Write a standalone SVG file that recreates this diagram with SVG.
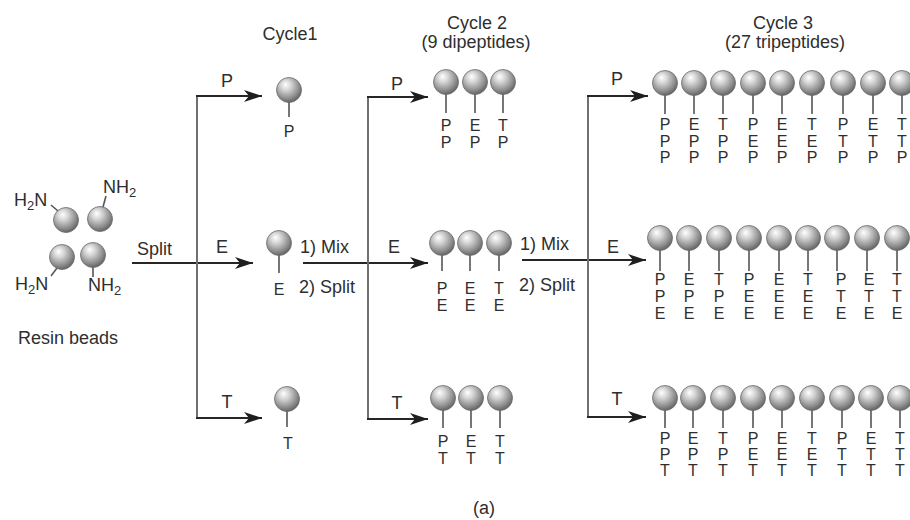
<svg xmlns="http://www.w3.org/2000/svg" width="910" height="520" viewBox="0 0 910 520">
<style>
text{font-family:"Liberation Sans",Arial,sans-serif;fill:#2e2e2e;font-size:18px}
.t{text-anchor:middle}
.pep{font-size:16px;text-anchor:middle}
.h{stroke:#262626;stroke-width:2;fill:none}
.v{stroke:#707070;stroke-width:2;fill:none}
.stem{stroke:#555;stroke-width:1.6}
.sub{font-size:13px}
</style>
<defs>
<radialGradient id="g" cx="0.42" cy="0.36" r="0.68" fx="0.36" fy="0.28">
<stop offset="0" stop-color="#ffffff"/>
<stop offset="0.3" stop-color="#d6d6d6"/>
<stop offset="0.75" stop-color="#8a8a8a"/>
<stop offset="1" stop-color="#5a5a5a"/>
</radialGradient>
<circle id="bd" r="12.5" fill="url(#g)" stroke="#6b6b6b" stroke-width="0.8"/>
<marker id="ah" viewBox="0 0 18 12" refX="18" refY="6" markerWidth="18" markerHeight="12" markerUnits="userSpaceOnUse" orient="auto">
<path d="M0,0 L18,6 L0,12 L5,6 Z" fill="#1e1e1e"/>
</marker>
</defs>
<rect width="910" height="520" fill="#ffffff"/>

<g id="titles">
<text class="t" x="290" y="40">Cycle1</text>
<text class="t" x="477" y="29">Cycle 2</text>
<text class="t" x="476" y="48">(9 dipeptides)</text>
<text class="t" x="783" y="29">Cycle 3</text>
<text class="t" x="785" y="48">(27 tripeptides)</text>
<text class="t" x="484" y="514">(a)</text>
</g>

<g id="resin-beads">
<line class="stem" x1="51" y1="205" x2="58" y2="211"/>
<use href="#bd" x="66" y="220"/>
<text x="14" y="206">H<tspan class="sub" dy="4">2</tspan><tspan dy="-4">N</tspan></text>
<line class="stem" x1="106" y1="196" x2="103" y2="207"/>
<use href="#bd" x="100" y="219"/>
<text x="103" y="193">NH<tspan class="sub" dy="4">2</tspan></text>
<line class="stem" x1="57" y1="268" x2="51" y2="276"/>
<use href="#bd" x="62" y="257"/>
<text x="15" y="290">H<tspan class="sub" dy="4">2</tspan><tspan dy="-4">N</tspan></text>
<line class="stem" x1="93" y1="267" x2="93" y2="277"/>
<use href="#bd" x="93" y="255"/>
<text x="88" y="291">NH<tspan class="sub" dy="4">2</tspan></text>
<text x="18" y="344">Resin beads</text>
</g>

<g id="connectors">
<line class="h" x1="132" y1="263" x2="253" y2="263" marker-end="url(#ah)"/>
<line class="v" x1="197" y1="96" x2="197" y2="419"/>
<line class="h" x1="196" y1="96" x2="262" y2="96" marker-end="url(#ah)"/>
<line class="h" x1="196" y1="418" x2="262" y2="418" marker-end="url(#ah)"/>
<line class="h" x1="303" y1="263" x2="428" y2="263" marker-end="url(#ah)"/>
<line class="v" x1="368" y1="97" x2="368" y2="420"/>
<line class="h" x1="367" y1="97" x2="428" y2="97" marker-end="url(#ah)"/>
<line class="h" x1="367" y1="419" x2="428" y2="419" marker-end="url(#ah)"/>
<line class="h" x1="522" y1="260" x2="646" y2="260" marker-end="url(#ah)"/>
<line class="v" x1="588" y1="95" x2="588" y2="418"/>
<line class="h" x1="587" y1="96" x2="648" y2="96" marker-end="url(#ah)"/>
<line class="h" x1="587" y1="417" x2="646" y2="417" marker-end="url(#ah)"/>
<text x="137" y="255">Split</text>
<text class="t" x="227" y="87">P</text>
<text class="t" x="222" y="253">E</text>
<text class="t" x="227" y="408">T</text>
<text x="300" y="253">1) Mix</text>
<text x="299" y="293">2) Split</text>
<text class="t" x="397" y="90">P</text>
<text class="t" x="394" y="253">E</text>
<text class="t" x="397" y="409">T</text>
<text x="520" y="250">1) Mix</text>
<text x="519" y="291">2) Split</text>
<text class="t" x="617" y="85">P</text>
<text class="t" x="613" y="253">E</text>
<text class="t" x="617" y="405">T</text>
</g>

<g id="cycle1-P">
<line class="stem" x1="289" y1="100" x2="289" y2="117"/>
<use href="#bd" x="289" y="90"/>
<text class="pep" x="289" y="137">P</text>
</g>
<g id="cycle1-E">
<line class="stem" x1="279" y1="253" x2="279" y2="273"/>
<use href="#bd" x="279" y="243"/>
<text class="pep" x="279" y="295">E</text>
</g>
<g id="cycle1-T">
<line class="stem" x1="287" y1="409" x2="287" y2="427"/>
<use href="#bd" x="287" y="399"/>
<text class="pep" x="288" y="449">T</text>
</g>

<g id="cycle2-P">
<g id="c2-PP"><line class="stem" x1="446" y1="90" x2="446" y2="113"/><use href="#bd" x="446" y="82"/><text class="pep" x="446" y="131">P<tspan x="446" dy="16.5">P</tspan></text></g>
<g id="c2-EP"><line class="stem" x1="475" y1="90" x2="475" y2="113"/><use href="#bd" x="475" y="82"/><text class="pep" x="475" y="131">E<tspan x="475" dy="16.5">P</tspan></text></g>
<g id="c2-TP"><line class="stem" x1="503" y1="90" x2="503" y2="113"/><use href="#bd" x="503" y="82"/><text class="pep" x="503" y="131">T<tspan x="503" dy="16.5">P</tspan></text></g>
</g>
<g id="cycle2-E">
<g id="c2-PE"><line class="stem" x1="442" y1="250" x2="442" y2="271"/><use href="#bd" x="442" y="243"/><text class="pep" x="442" y="294">P<tspan x="442" dy="16.5">E</tspan></text></g>
<g id="c2-EE"><line class="stem" x1="470" y1="250" x2="470" y2="271"/><use href="#bd" x="470" y="243"/><text class="pep" x="470" y="294">E<tspan x="470" dy="16.5">E</tspan></text></g>
<g id="c2-TE"><line class="stem" x1="499" y1="250" x2="499" y2="271"/><use href="#bd" x="499" y="243"/><text class="pep" x="499" y="294">T<tspan x="499" dy="16.5">E</tspan></text></g>
</g>
<g id="cycle2-T">
<g id="c2-PT"><line class="stem" x1="443" y1="405" x2="443" y2="428"/><use href="#bd" x="443" y="398"/><text class="pep" x="443" y="447">P<tspan x="443" dy="16.5">T</tspan></text></g>
<g id="c2-ET"><line class="stem" x1="471" y1="405" x2="471" y2="428"/><use href="#bd" x="471" y="398"/><text class="pep" x="471" y="447">E<tspan x="471" dy="16.5">T</tspan></text></g>
<g id="c2-TT"><line class="stem" x1="500" y1="405" x2="500" y2="428"/><use href="#bd" x="500" y="398"/><text class="pep" x="500" y="447">T<tspan x="500" dy="16.5">T</tspan></text></g>
</g>

<g id="cycle3-P">
<g id="c3-PPP"><line class="stem" x1="665" y1="90" x2="665" y2="114"/><use href="#bd" x="665" y="83"/><text class="pep" x="665" y="130">P<tspan x="665" dy="16.5">P</tspan><tspan x="665" dy="16.5">P</tspan></text></g>
<g id="c3-EPP"><line class="stem" x1="694" y1="90" x2="694" y2="114"/><use href="#bd" x="694" y="83"/><text class="pep" x="694" y="130">E<tspan x="694" dy="16.5">P</tspan><tspan x="694" dy="16.5">P</tspan></text></g>
<g id="c3-TPP"><line class="stem" x1="723" y1="90" x2="723" y2="114"/><use href="#bd" x="723" y="83"/><text class="pep" x="723" y="130">T<tspan x="723" dy="16.5">P</tspan><tspan x="723" dy="16.5">P</tspan></text></g>
<g id="c3-PEP"><line class="stem" x1="753" y1="90" x2="753" y2="114"/><use href="#bd" x="753" y="83"/><text class="pep" x="753" y="130">P<tspan x="753" dy="16.5">E</tspan><tspan x="753" dy="16.5">P</tspan></text></g>
<g id="c3-EEP"><line class="stem" x1="782" y1="90" x2="782" y2="114"/><use href="#bd" x="782" y="83"/><text class="pep" x="782" y="130">E<tspan x="782" dy="16.5">E</tspan><tspan x="782" dy="16.5">P</tspan></text></g>
<g id="c3-TEP"><line class="stem" x1="812" y1="90" x2="812" y2="114"/><use href="#bd" x="812" y="83"/><text class="pep" x="812" y="130">T<tspan x="812" dy="16.5">E</tspan><tspan x="812" dy="16.5">P</tspan></text></g>
<g id="c3-PTP"><line class="stem" x1="843" y1="90" x2="843" y2="114"/><use href="#bd" x="843" y="83"/><text class="pep" x="843" y="130">P<tspan x="843" dy="16.5">T</tspan><tspan x="843" dy="16.5">P</tspan></text></g>
<g id="c3-ETP"><line class="stem" x1="873" y1="90" x2="873" y2="114"/><use href="#bd" x="873" y="83"/><text class="pep" x="873" y="130">E<tspan x="873" dy="16.5">T</tspan><tspan x="873" dy="16.5">P</tspan></text></g>
<g id="c3-TTP"><line class="stem" x1="902" y1="90" x2="902" y2="114"/><use href="#bd" x="902" y="83"/><text class="pep" x="902" y="130">T<tspan x="902" dy="16.5">T</tspan><tspan x="902" dy="16.5">P</tspan></text></g>
</g>
<g id="cycle3-E">
<g id="c3-PPE"><line class="stem" x1="660" y1="245" x2="660" y2="271"/><use href="#bd" x="660" y="238"/><text class="pep" x="660" y="285">P<tspan x="660" dy="17">P</tspan><tspan x="660" dy="17">E</tspan></text></g>
<g id="c3-EPE"><line class="stem" x1="689" y1="245" x2="689" y2="271"/><use href="#bd" x="689" y="238"/><text class="pep" x="689" y="285">E<tspan x="689" dy="17">P</tspan><tspan x="689" dy="17">E</tspan></text></g>
<g id="c3-TPE"><line class="stem" x1="719" y1="245" x2="719" y2="271"/><use href="#bd" x="719" y="238"/><text class="pep" x="719" y="285">T<tspan x="719" dy="17">P</tspan><tspan x="719" dy="17">E</tspan></text></g>
<g id="c3-PEE"><line class="stem" x1="749" y1="245" x2="749" y2="271"/><use href="#bd" x="749" y="238"/><text class="pep" x="749" y="285">P<tspan x="749" dy="17">E</tspan><tspan x="749" dy="17">E</tspan></text></g>
<g id="c3-EEE"><line class="stem" x1="779" y1="245" x2="779" y2="271"/><use href="#bd" x="779" y="238"/><text class="pep" x="779" y="285">E<tspan x="779" dy="17">E</tspan><tspan x="779" dy="17">E</tspan></text></g>
<g id="c3-TEE"><line class="stem" x1="808" y1="245" x2="808" y2="271"/><use href="#bd" x="808" y="238"/><text class="pep" x="808" y="285">T<tspan x="808" dy="17">E</tspan><tspan x="808" dy="17">E</tspan></text></g>
<g id="c3-PTE"><line class="stem" x1="837" y1="245" x2="837" y2="271"/><use href="#bd" x="837" y="238"/><text class="pep" x="841" y="285">P<tspan x="841" dy="17">T</tspan><tspan x="841" dy="17">E</tspan></text></g>
<g id="c3-ETE"><line class="stem" x1="867" y1="245" x2="867" y2="271"/><use href="#bd" x="867" y="238"/><text class="pep" x="869" y="285">E<tspan x="869" dy="17">T</tspan><tspan x="869" dy="17">E</tspan></text></g>
<g id="c3-TTE"><line class="stem" x1="897" y1="245" x2="897" y2="271"/><use href="#bd" x="897" y="238"/><text class="pep" x="897" y="285">T<tspan x="897" dy="17">T</tspan><tspan x="897" dy="17">E</tspan></text></g>
</g>
<g id="cycle3-T">
<g id="c3-PPT"><line class="stem" x1="665" y1="405" x2="665" y2="428"/><use href="#bd" x="665" y="398"/><text class="pep" x="665" y="444">P<tspan x="665" dy="16.2">P</tspan><tspan x="665" dy="16.2">T</tspan></text></g>
<g id="c3-EPT"><line class="stem" x1="693" y1="405" x2="693" y2="428"/><use href="#bd" x="693" y="398"/><text class="pep" x="693" y="444">E<tspan x="693" dy="16.2">P</tspan><tspan x="693" dy="16.2">T</tspan></text></g>
<g id="c3-TPT"><line class="stem" x1="723" y1="405" x2="723" y2="428"/><use href="#bd" x="723" y="398"/><text class="pep" x="723" y="444">T<tspan x="723" dy="16.2">P</tspan><tspan x="723" dy="16.2">T</tspan></text></g>
<g id="c3-PET"><line class="stem" x1="753" y1="405" x2="753" y2="428"/><use href="#bd" x="753" y="398"/><text class="pep" x="753" y="444">P<tspan x="753" dy="16.2">E</tspan><tspan x="753" dy="16.2">T</tspan></text></g>
<g id="c3-EET"><line class="stem" x1="782" y1="405" x2="782" y2="428"/><use href="#bd" x="782" y="398"/><text class="pep" x="782" y="444">E<tspan x="782" dy="16.2">E</tspan><tspan x="782" dy="16.2">T</tspan></text></g>
<g id="c3-TET"><line class="stem" x1="812" y1="405" x2="812" y2="428"/><use href="#bd" x="812" y="398"/><text class="pep" x="812" y="444">T<tspan x="812" dy="16.2">E</tspan><tspan x="812" dy="16.2">T</tspan></text></g>
<g id="c3-PTT"><line class="stem" x1="842" y1="405" x2="842" y2="428"/><use href="#bd" x="842" y="398"/><text class="pep" x="842" y="444">P<tspan x="842" dy="16.2">T</tspan><tspan x="842" dy="16.2">T</tspan></text></g>
<g id="c3-ETT"><line class="stem" x1="871" y1="405" x2="871" y2="428"/><use href="#bd" x="871" y="398"/><text class="pep" x="871" y="444">E<tspan x="871" dy="16.2">T</tspan><tspan x="871" dy="16.2">T</tspan></text></g>
<g id="c3-TTT"><line class="stem" x1="900" y1="405" x2="900" y2="428"/><use href="#bd" x="900" y="398"/><text class="pep" x="900" y="444">T<tspan x="900" dy="16.2">T</tspan><tspan x="900" dy="16.2">T</tspan></text></g>
</g>
</svg>
